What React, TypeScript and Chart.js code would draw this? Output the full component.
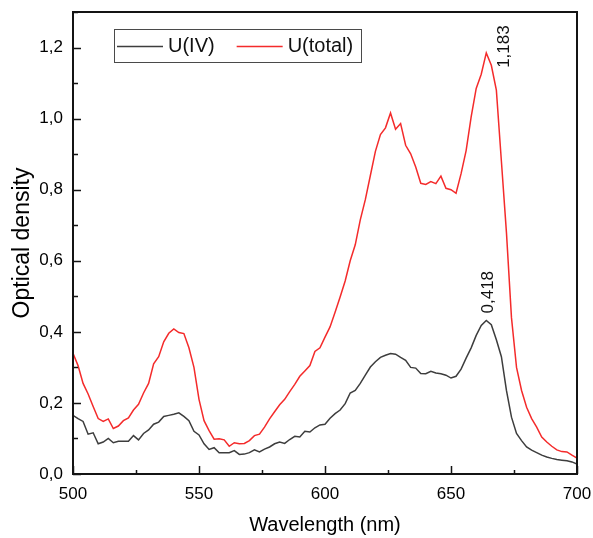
import React, { useEffect, useRef } from "react";
import { Chart, registerables } from "chart.js";

Chart.register(...registerables);

const wavelengths = [
  500, 502, 504, 506, 508, 510, 512, 514, 516, 518,
  520, 522, 524, 526, 528, 530, 532, 534, 536, 538,
  540, 542, 544, 546, 548, 550, 552, 554, 556, 558,
  560, 562, 564, 566, 568, 570, 572, 574, 576, 578,
  580, 582, 584, 586, 588, 590, 592, 594, 596, 598,
  600, 602, 604, 606, 608, 610, 612, 614, 616, 618,
  620, 622, 624, 626, 628, 630, 632, 634, 636, 638,
  640, 642, 644, 646, 648, 650, 652, 654, 656, 658,
  660, 662, 664, 666, 668, 670, 672, 674, 676, 678,
  680, 682, 684, 686, 688, 690, 692, 694, 696, 698,
  700,
];

const uIV = [
  0.165, 0.156, 0.148, 0.112, 0.116, 0.085, 0.090, 0.100, 0.088, 0.092,
  0.092, 0.092, 0.108, 0.096, 0.114, 0.124, 0.140, 0.146, 0.162, 0.165,
  0.168, 0.172, 0.162, 0.150, 0.120, 0.110, 0.085, 0.069, 0.074, 0.060,
  0.060, 0.060, 0.066, 0.055, 0.056, 0.060, 0.068, 0.062, 0.070, 0.076,
  0.085, 0.090, 0.086, 0.097, 0.106, 0.104, 0.120, 0.118, 0.130, 0.138,
  0.140, 0.157, 0.170, 0.180, 0.198, 0.228, 0.235, 0.255, 0.278, 0.301,
  0.316, 0.328, 0.334, 0.339, 0.337, 0.328, 0.320, 0.300, 0.298, 0.283,
  0.282, 0.289, 0.284, 0.282, 0.278, 0.270, 0.275, 0.295, 0.326, 0.355,
  0.390, 0.418, 0.432, 0.420, 0.378, 0.330, 0.235, 0.160, 0.114, 0.094,
  0.076, 0.067, 0.060, 0.053, 0.048, 0.044, 0.041, 0.039, 0.037, 0.034,
  0.028,
];

const uTotal = [
  0.340, 0.305, 0.255, 0.225, 0.190, 0.156, 0.148, 0.155, 0.128, 0.135,
  0.150, 0.158, 0.180, 0.196, 0.228, 0.255, 0.310, 0.330, 0.372, 0.396,
  0.408, 0.398, 0.395, 0.355, 0.300, 0.210, 0.150, 0.122, 0.098, 0.099,
  0.096, 0.078, 0.088, 0.085, 0.086, 0.094, 0.108, 0.112, 0.132, 0.155,
  0.175, 0.195, 0.210, 0.232, 0.252, 0.275, 0.290, 0.305, 0.345, 0.355,
  0.385, 0.414, 0.455, 0.498, 0.543, 0.600, 0.645, 0.715, 0.772, 0.840,
  0.908, 0.955, 0.974, 1.016, 0.970, 0.986, 0.925, 0.901, 0.864, 0.818,
  0.815, 0.823, 0.817, 0.838, 0.804, 0.800, 0.790, 0.845, 0.910, 1.005,
  1.085, 1.125, 1.185, 1.150, 1.080, 0.880, 0.680, 0.440, 0.300, 0.235,
  0.188, 0.156, 0.132, 0.104, 0.090, 0.078, 0.068, 0.063, 0.062, 0.053,
  0.045,
];

const seriesNames = ["U(IV)", "U(total)"];
const seriesColors = ["#3d3d3d", "#f42b2b"];

const xTicks = [500, 550, 600, 650, 700];
const xTickLabels = ["500", "550", "600", "650", "700"];
const yTicks = [0, 0.2, 0.4, 0.6, 0.8, 1.0, 1.2];
const yTickLabels = ["0,0", "0,2", "0,4", "0,6", "0,8", "1,0", "1,2"];
const peakLabels = ["0,418", "1,183"];

const xTitle = "Wavelength (nm)";
const yTitle = "Optical density";

const FONT = "'Liberation Sans', Arial, Helvetica, sans-serif";

const framePlugin = {
  id: "frameTicks",
  afterDatasetsDraw(chart: any) {
    const { ctx, chartArea, scales } = chart;
    const { left, right, top, bottom } = chartArea;
    const x = scales.x;
    const y = scales.y;
    ctx.save();
    ctx.strokeStyle = "#141414";
    ctx.lineWidth = 1.5;
    ctx.beginPath();
    for (let v = 500; v <= 700; v += 25) {
      const px = Math.round(x.getPixelForValue(v)) + 0.5;
      const len = v % 50 === 0 ? 8 : 4;
      ctx.moveTo(px, bottom);
      ctx.lineTo(px, bottom - len);
    }
    for (let i = 0; i <= 13; i++) {
      const v = i / 10;
      const py = Math.round(y.getPixelForValue(v)) + 0.5;
      const len = i % 2 === 0 ? 8 : 5;
      ctx.moveTo(left, py);
      ctx.lineTo(left + len, py);
    }
    ctx.stroke();
    ctx.lineWidth = 2;
    ctx.strokeRect(left, top, right - left, bottom - top);

    // peak annotations
    const offsets = [
      { dx: 2, dy: -7 },
      { dx: 18, dy: 15 },
    ];
    ctx.fillStyle = "#111";
    ctx.font = `17px ${FONT}`;
    ctx.textAlign = "left";
    ctx.textBaseline = "middle";
    chart.data.datasets.forEach((ds: any, i: number) => {
      let best = 0;
      ds.data.forEach((p: any, j: number) => {
        if (p.y > ds.data[best].y) best = j;
      });
      const p = ds.data[best];
      const px = x.getPixelForValue(p.x) + offsets[i].dx;
      const py = y.getPixelForValue(p.y) + offsets[i].dy;
      ctx.save();
      ctx.translate(px, py);
      ctx.rotate(-Math.PI / 2);
      ctx.fillText(peakLabels[i], 0, 0);
      ctx.restore();
    });
    ctx.restore();
  },
  afterDraw(chart: any) {
    const { ctx, chartArea } = chart;
    const bx = chartArea.left + 41;
    const by = chartArea.top + 17;
    const bw = 247;
    const bh = 33;
    ctx.save();
    ctx.strokeStyle = "#4a4a4a";
    ctx.lineWidth = 1;
    ctx.strokeRect(bx + 0.5, by + 0.5, bw, bh);
    ctx.font = `20px ${FONT}`;
    ctx.textAlign = "left";
    ctx.textBaseline = "middle";
    let cx = bx + 3;
    const cy = by + bh / 2 + 1;
    chart.data.datasets.forEach((ds: any) => {
      ctx.strokeStyle = ds.borderColor;
      ctx.lineWidth = 1.5;
      ctx.beginPath();
      ctx.moveTo(cx, cy);
      ctx.lineTo(cx + 46, cy);
      ctx.stroke();
      ctx.fillStyle = "#111";
      ctx.fillText(ds.label, cx + 51, cy);
      cx += 51 + ctx.measureText(ds.label).width + 22;
    });
    ctx.restore();
  },
};

export default function App() {
  const ref = useRef<HTMLCanvasElement | null>(null);

  useEffect(() => {
    if (!ref.current) return;
    const series = [uIV, uTotal];
    const chart = new Chart(ref.current, {
      type: "line",
      data: {
        datasets: series.map((vals, i) => ({
          label: seriesNames[i],
          data: wavelengths.map((w, j) => ({ x: w, y: vals[j] })),
          borderColor: seriesColors[i],
          backgroundColor: seriesColors[i],
          borderWidth: 1.5,
          pointRadius: 0,
          tension: 0,
          fill: false,
        })),
      },
      options: {
        animation: false,
        responsive: false,
        devicePixelRatio: 1,
        layout: { padding: { left: 0, top: 12, right: 16, bottom: 0 } },
        plugins: {
          legend: { display: false },
          tooltip: { enabled: false },
        },
        scales: {
          x: {
            type: "linear",
            min: 500,
            max: 700,
            afterBuildTicks: (s: any) => {
              s.ticks = xTicks.map((v) => ({ value: v }));
            },
            afterFit: (s: any) => {
              s.height = 64;
              s.paddingLeft = 0;
              s.paddingRight = 0;
            },
            grid: { display: false, drawTicks: false },
            border: { display: false },
            ticks: {
              padding: 10,
              color: "#000",
              font: { family: FONT, size: 17 },
              maxRotation: 0,
              autoSkip: false,
              includeBounds: false,
              callback: (v: any) => {
                const k = xTicks.indexOf(Number(v));
                return k >= 0 ? xTickLabels[k] : "";
              },
            },
            title: {
              display: true,
              text: xTitle,
              color: "#000",
              font: { family: FONT, size: 20 },
              padding: { top: 0, bottom: 1 },
            },
          },
          y: {
            type: "linear",
            min: 0,
            max: 1.3,
            afterBuildTicks: (s: any) => {
              s.ticks = yTicks.map((v) => ({ value: v }));
            },
            afterFit: (s: any) => {
              s.width = 73;
              s.paddingTop = 0;
              s.paddingBottom = 0;
            },
            grid: { display: false, drawTicks: false },
            border: { display: false },
            ticks: {
              padding: 10,
              color: "#000",
              font: { family: FONT, size: 17 },
              autoSkip: false,
              includeBounds: false,
              callback: (v: any) => {
                const k = yTicks.findIndex((t) => Math.abs(t - Number(v)) < 1e-6);
                return k >= 0 ? yTickLabels[k] : "";
              },
            },
            title: {
              display: true,
              text: yTitle,
              color: "#000",
              font: { family: FONT, size: 23 },
              padding: { top: 9, bottom: 0 },
            },
          },
        },
      },
      plugins: [framePlugin],
    });
    return () => chart.destroy();
  }, []);

  return (
    <div style={{ position: "fixed", left: 0, top: 0, width: 593, height: 538, background: "#fff" }}>
      <canvas ref={ref} width={593} height={538} style={{ display: "block", width: 593, height: 538 }} />
    </div>
  );
}
